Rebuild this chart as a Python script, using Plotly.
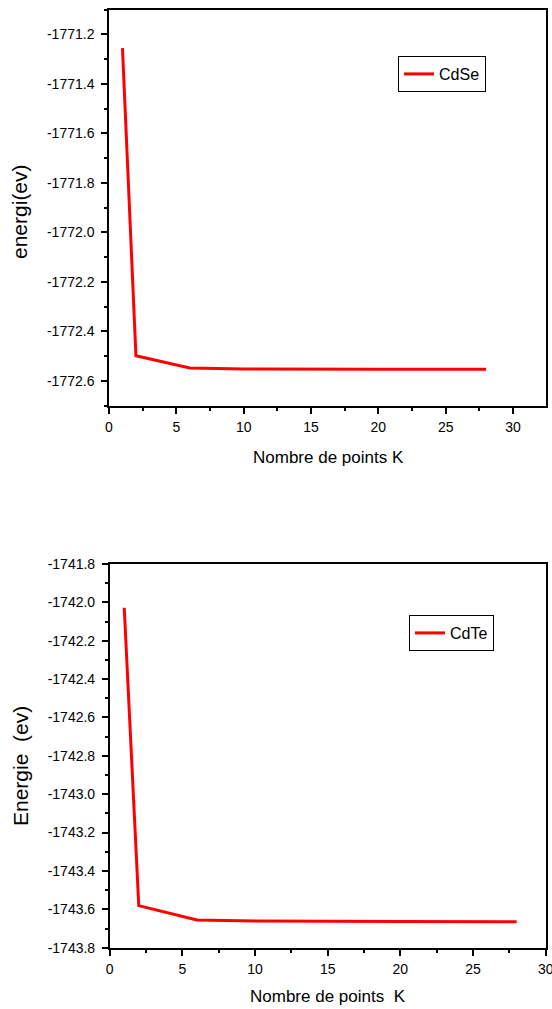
import plotly.graph_objects as go

# Convergence of total energy with the number of k-points
k_points = [1, 2, 6, 10, 20, 28]
energy_cdse = [-1771.255, -1772.498, -1772.548, -1772.552, -1772.553, -1772.553]
energy_cdte = [-1742.028, -1743.581, -1743.656, -1743.661, -1743.664, -1743.665]

x_ticks_top = [0, 5, 10, 15, 20, 25, 30]
x_ticks_bottom = [0, 5, 10, 15, 20, 25, 30]
y_ticks_cdse = [-1771.2, -1771.4, -1771.6, -1771.8, -1772.0, -1772.2, -1772.4, -1772.6]
y_ticks_cdte = [-1741.8, -1742.0, -1742.2, -1742.4, -1742.6, -1742.8,
                -1743.0, -1743.2, -1743.4, -1743.6, -1743.8]

W, H = 552, 1009
FONT = "Liberation Sans, Arial, sans-serif"


def px_x(p):
    return p / W


def px_y(p):
    return 1 - p / H


fig = go.Figure()

fig.add_trace(go.Scatter(
    x=k_points, y=energy_cdse, mode="lines", name="CdSe",
    line=dict(color="#ff0000", width=3),
    xaxis="x", yaxis="y", legend="legend",
))
fig.add_trace(go.Scatter(
    x=k_points, y=energy_cdte, mode="lines", name="CdTe",
    line=dict(color="#ff0000", width=3),
    xaxis="x2", yaxis="y2", legend="legend2",
))

tick_font = dict(family=FONT, size=14, color="black")


def x_axis(domain, rng, anchor, ticks):
    return dict(
        domain=domain, range=rng, anchor=anchor, automargin=False,
        tickvals=ticks, ticktext=[str(t) for t in ticks],
        showline=True, linecolor="black", linewidth=1.5, mirror=True,
        ticks="outside", ticklen=7, tickwidth=1.5, tickcolor="black",
        minor=dict(dtick=2.5, ticks="outside", ticklen=4, tickwidth=1.5,
                   tickcolor="black", showgrid=False),
        showgrid=False, zeroline=False, tickfont=tick_font,
        ticklabelstandoff=1, ticklabeloverflow="allow",
    )


def y_axis(domain, rng, anchor, ticks):
    return dict(
        domain=domain, range=rng, anchor=anchor, automargin=False,
        tickvals=ticks, ticktext=[f"{t:.1f}" for t in ticks],
        showline=True, linecolor="black", linewidth=1.5, mirror=True,
        ticks="outside", ticklen=6, tickwidth=1.5, tickcolor="black",
        minor=dict(dtick=0.1, ticks="outside", ticklen=3, tickwidth=1.5,
                   tickcolor="black", showgrid=False),
        showgrid=False, zeroline=False, tickfont=tick_font,
        ticklabelstandoff=4, ticklabeloverflow="allow",
    )


legend_style = dict(
    xanchor="left", yanchor="top",
    bordercolor="black", borderwidth=1, bgcolor="white",
    font=dict(family=FONT, size=16, color="black"),
    itemwidth=30, tracegroupgap=0,
)

fig.update_layout(
    width=W, height=H,
    margin=dict(l=0, r=0, t=0, b=0, autoexpand=False),
    paper_bgcolor="white", plot_bgcolor="white",
    font=dict(family=FONT, color="black"),
    xaxis=x_axis([px_x(109), px_x(546)], [0, 32.45], "y", x_ticks_top),
    yaxis=y_axis([px_y(405.7), px_y(9.7)], [-1772.7, -1771.1], "x", y_ticks_cdse),
    xaxis2=x_axis([px_x(109.7), px_x(545.7)], [0, 30], "y2", x_ticks_bottom),
    yaxis2=y_axis([px_y(947.7), px_y(564)], [-1743.8, -1741.8], "x2", y_ticks_cdte),
    legend=dict(x=px_x(398), y=px_y(56), **legend_style),
    legend2=dict(x=px_x(409), y=px_y(615), **legend_style),
    showlegend=True,
)

x_title_font = dict(family=FONT, size=17, color="black")
y_title_font = dict(family=FONT, size=21, color="black")
titles = [
    ("Nombre de points K", 328, 457, 0, x_title_font),
    ("Nombre de points\u00a0 K", 328, 996, 0, x_title_font),
    ("energi(ev)", 20, 212, -90, y_title_font),
    ("Energie\u00a0 (ev)", 20, 766, -90, y_title_font),
]
for text, cx, cy, angle, font in titles:
    fig.add_annotation(text=text, x=px_x(cx), y=px_y(cy), textangle=angle,
                       xref="paper", yref="paper", xanchor="center",
                       yanchor="middle", showarrow=False, font=font)

fig.write_html("out.html")
